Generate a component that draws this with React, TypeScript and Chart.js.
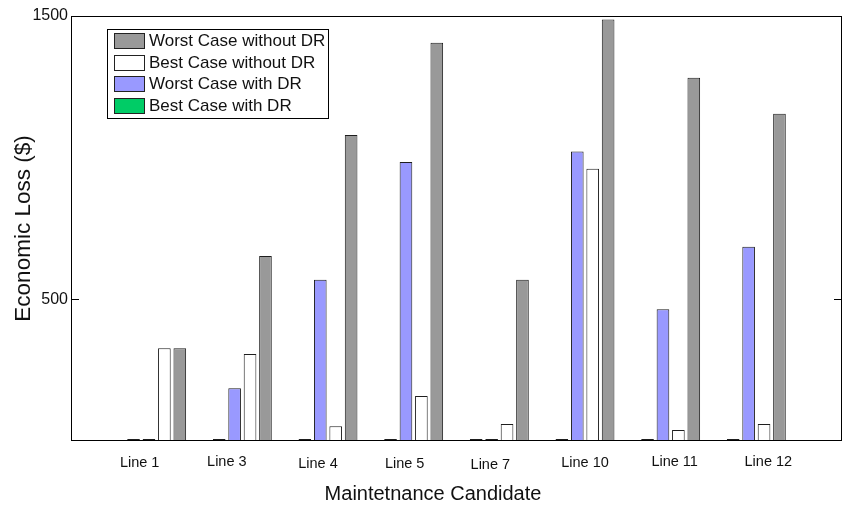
import React, { useEffect, useRef } from "react";
import { Chart, registerables } from "chart.js";

Chart.register(...registerables);

// ---- data ----
const categories = ["Line 1", "Line 3", "Line 4", "Line 5", "Line 7", "Line 10", "Line 11", "Line 12"];
const bestWithDR = [0, 0, 0, 0, 0, 0, 0, 0];
const worstWithDR = [0, 186, 569, 985, 0, 1022, 465, 686];
const bestWithoutDR = [327, 307, 52, 159, 60, 961, 39, 60];
const worstWithoutDR = [327, 653, 1080, 1406, 569, 1488, 1282, 1155];
const yTickValues = [500, 1500];
const seriesNames = ["Best Case with DR", "Worst Case with DR", "Best Case without DR", "Worst Case without DR"];
const xTitle = "Maintetnance Candidate";
const yTitle = "Economic Loss ($)";

// ---- styling ----
const FONT = '"Liberation Sans", Arial, Helvetica, sans-serif';
const seriesColors = ["#00CC66", "#9999FF", "#FFFFFF", "#999999"];
const labelNudgeX = [-17, -15.5, -10, -9, -9, 0, 4, 12];
const labelNudgeY = [0.5, 0, 2, 2, 3, 1, 0, 0];

const pad = (arr: number[]) => [null, ...arr, null];

const framePlugin = {
  id: "matlabFrame",
  afterDraw(chart: any) {
    const { ctx, chartArea } = chart;
    const { left, right, top, bottom } = chartArea;
    const yScale = chart.scales.y;
    const xScale = chart.scales.x;
    ctx.save();
    // frame
    ctx.strokeStyle = "#000";
    ctx.lineWidth = 1;
    ctx.strokeRect(left + 0.5, top + 0.5, right - left - 1, bottom - top - 1);
    // inward ticks
    yTickValues.forEach((v) => {
      const y = Math.round(yScale.getPixelForValue(v)) + 0.5;
      ctx.beginPath();
      ctx.moveTo(left, y);
      ctx.lineTo(left + 8, y);
      ctx.moveTo(right, y);
      ctx.lineTo(right - 8, y);
      ctx.stroke();
    });
    // x category labels
    ctx.fillStyle = "#111";
    ctx.font = `14.5px ${FONT}`;
    ctx.textAlign = "center";
    ctx.textBaseline = "middle";
    categories.forEach((c, i) => {
      const x = xScale.getPixelForValue(i + 1) + labelNudgeX[i];
      ctx.fillText(c, x, 462 + labelNudgeY[i]);
    });
    // axis titles
    ctx.font = `20px ${FONT}`;
    ctx.fillText(xTitle, 433, 494);
    ctx.save();
    ctx.translate(24, (top + bottom) / 2);
    ctx.rotate(-Math.PI / 2);
    ctx.font = `22.5px ${FONT}`;
    ctx.fillText(yTitle, 0, 0);
    ctx.restore();
    // legend
    const lx = 107, ly = 29, lw = 222, lh = 90;
    ctx.fillStyle = "#fff";
    ctx.fillRect(lx, ly, lw, lh);
    ctx.strokeStyle = "#000";
    ctx.strokeRect(lx + 0.5, ly + 0.5, lw - 1, lh - 1);
    const ds = chart.data.datasets.slice().reverse();
    ctx.font = `17px ${FONT}`;
    ctx.textAlign = "left";
    ds.forEach((d: any, i: number) => {
      const sy = Math.round(33 + i * 21.7);
      ctx.fillStyle = d.backgroundColor;
      ctx.fillRect(114, sy, 31, 16);
      ctx.strokeStyle = "#222";
      ctx.strokeRect(114.5, sy + 0.5, 30, 15);
      ctx.fillStyle = "#111";
      ctx.fillText(d.label, 149, sy + 8.5);
    });
    ctx.restore();
  },
};

export default function App() {
  const ref = useRef<HTMLCanvasElement | null>(null);
  useEffect(() => {
    if (!ref.current) return;
    const series = [bestWithDR, worstWithDR, bestWithoutDR, worstWithoutDR];
    const chart = new Chart(ref.current, {
      type: "bar",
      data: {
        labels: ["", ...categories, ""],
        datasets: series.map((s, i) => ({
          label: seriesNames[i],
          data: pad(s) as any,
          backgroundColor: seriesColors[i],
          borderColor: "#1e1e1e",
          borderWidth: 1,
          minBarLength: 2,
          categoryPercentage: 0.72,
          barPercentage: 0.82,
        })),
      },
      options: {
        responsive: false,
        animation: false,
        layout: { padding: { top: 16, right: 3, left: 0, bottom: 0 } },
        plugins: { legend: { display: false }, tooltip: { enabled: false } },
        scales: {
          x: {
            type: "category",
            offset: false,
            grid: { display: false, drawTicks: false },
            border: { display: false },
            ticks: { display: false },
            afterFit: (s: any) => { s.height = 65; },
          },
          y: {
            min: 0,
            max: 1500,
            grid: { display: false, drawTicks: false },
            border: { display: false },
            ticks: {
              color: "#111",
              font: { size: 16, family: FONT },
              padding: 3,
              callback: (v: any) => String(v),
            },
            afterBuildTicks: (s: any) => { s.ticks = yTickValues.map((v) => ({ value: v })); },
            afterFit: (s: any) => { s.width = 71; },
          },
        },
      },
      plugins: [framePlugin],
    });
    return () => chart.destroy();
  }, []);
  return (
    <div style={{ position: "fixed", left: 0, top: 0, width: 845, height: 506, background: "#fff" }}>
      <canvas ref={ref} width={845} height={506} />
    </div>
  );
}
